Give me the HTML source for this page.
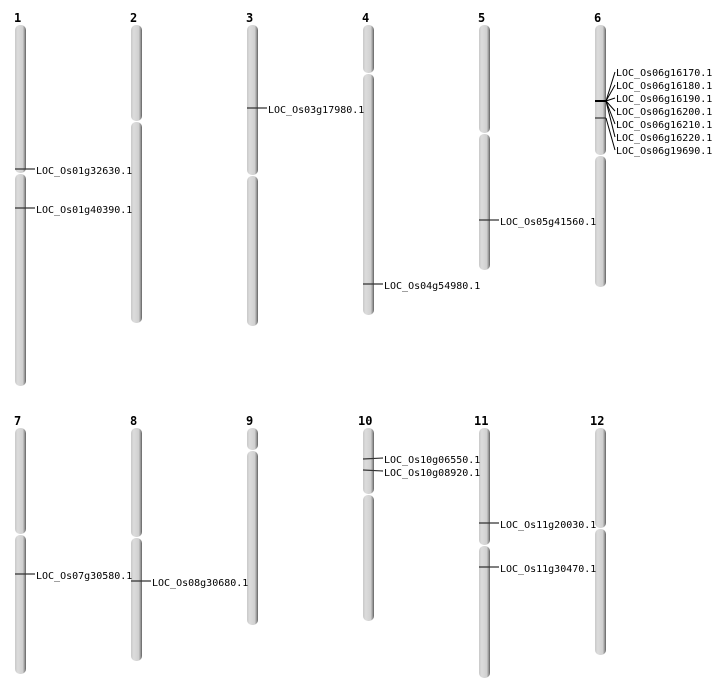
<!DOCTYPE html>
<html><head><meta charset="utf-8"><style>
html,body{margin:0;padding:0;background:#fff;}
svg{display:block;}
.n{font:bold 12px "DejaVu Sans Mono","Liberation Mono",monospace;fill:#000;}
.l{font:10px "DejaVu Sans Mono","Liberation Mono",monospace;fill:#000;}
</style></head><body>
<svg width="712" height="700" xmlns="http://www.w3.org/2000/svg">
<defs>
<linearGradient id="g" x1="0" x2="1" y1="0" y2="0">
<stop offset="0" stop-color="#c8c8c8"/><stop offset="0.25" stop-color="#dcdcdc"/><stop offset="0.7" stop-color="#d0d0d0"/><stop offset="0.85" stop-color="#a0a0a0"/><stop offset="1" stop-color="#606060"/>
</linearGradient>
</defs>
<g fill="url(#g)">
<rect x="15" y="25" width="11" height="148" rx="5"/><rect x="15" y="174" width="11" height="212" rx="5"/>
<rect x="131" y="25" width="11" height="96" rx="5"/><rect x="131" y="122" width="11" height="201" rx="5"/>
<rect x="247" y="25" width="11" height="150" rx="5"/><rect x="247" y="176" width="11" height="150" rx="5"/>
<rect x="363" y="25" width="11" height="48" rx="5"/><rect x="363" y="74" width="11" height="241" rx="5"/>
<rect x="479" y="25" width="11" height="108" rx="5"/><rect x="479" y="134" width="11" height="136" rx="5"/>
<rect x="595" y="25" width="11" height="130" rx="5"/><rect x="595" y="156" width="11" height="131" rx="5"/>
<rect x="15" y="428" width="11" height="106" rx="5"/><rect x="15" y="535" width="11" height="139" rx="5"/>
<rect x="131" y="428" width="11" height="109" rx="5"/><rect x="131" y="538" width="11" height="123" rx="5"/>
<rect x="247" y="428" width="11" height="22" rx="5"/><rect x="247" y="451" width="11" height="174" rx="5"/>
<rect x="363" y="428" width="11" height="66" rx="5"/><rect x="363" y="495" width="11" height="126" rx="5"/>
<rect x="479" y="428" width="11" height="117" rx="5"/><rect x="479" y="546" width="11" height="132" rx="5"/>
<rect x="595" y="428" width="11" height="100" rx="5"/><rect x="595" y="529" width="11" height="126" rx="5"/>
</g>
<g class="n">
<text x="14" y="22">1</text><text x="130" y="22">2</text><text x="246" y="22">3</text><text x="362" y="22">4</text><text x="478" y="22">5</text><text x="594" y="22">6</text>
<text x="14" y="425">7</text><text x="130" y="425">8</text><text x="246" y="425">9</text><text x="358" y="425">10</text><text x="474" y="425">11</text><text x="590" y="425">12</text>
</g>
<g stroke="#333" stroke-width="1.2">
<line x1="15" y1="169" x2="35" y2="169"/><line x1="15" y1="208" x2="35" y2="208"/>
<line x1="247" y1="108" x2="267" y2="108"/>
<line x1="363" y1="284" x2="383" y2="284"/>
<line x1="479" y1="220" x2="499" y2="220"/>
<line x1="15" y1="574" x2="35" y2="574"/>
<line x1="131" y1="581" x2="151" y2="581"/>
<line x1="363" y1="459" x2="383" y2="458"/><line x1="363" y1="470" x2="383" y2="471"/>
<line x1="479" y1="523" x2="499" y2="523"/><line x1="479" y1="567" x2="499" y2="567"/>
<line x1="595" y1="101" x2="606" y2="101" stroke-width="2" stroke="#000"/>
<line x1="595" y1="118" x2="606" y2="118"/>
<g stroke="#000" stroke-width="1">
<line x1="606" y1="101" x2="615" y2="72"/><line x1="606" y1="101" x2="615" y2="85"/><line x1="606" y1="101" x2="615" y2="98"/><line x1="606" y1="101" x2="615" y2="111"/><line x1="606" y1="101" x2="615" y2="124"/><line x1="606" y1="101" x2="615" y2="137"/><line x1="606" y1="118" x2="615" y2="150"/>
</g>
</g>
<g class="l">
<text x="36" y="174">LOC_Os01g32630.1</text>
<text x="36" y="213">LOC_Os01g40390.1</text>
<text x="268" y="113">LOC_Os03g17980.1</text>
<text x="384" y="289">LOC_Os04g54980.1</text>
<text x="500" y="225">LOC_Os05g41560.1</text>
<text x="616" y="76">LOC_Os06g16170.1</text>
<text x="616" y="89">LOC_Os06g16180.1</text>
<text x="616" y="102">LOC_Os06g16190.1</text>
<text x="616" y="115">LOC_Os06g16200.1</text>
<text x="616" y="128">LOC_Os06g16210.1</text>
<text x="616" y="141">LOC_Os06g16220.1</text>
<text x="616" y="154">LOC_Os06g19690.1</text>
<text x="36" y="579">LOC_Os07g30580.1</text>
<text x="152" y="586">LOC_Os08g30680.1</text>
<text x="384" y="463">LOC_Os10g06550.1</text>
<text x="384" y="476">LOC_Os10g08920.1</text>
<text x="500" y="528">LOC_Os11g20030.1</text>
<text x="500" y="572">LOC_Os11g30470.1</text>
</g>
</svg>
</body></html>
